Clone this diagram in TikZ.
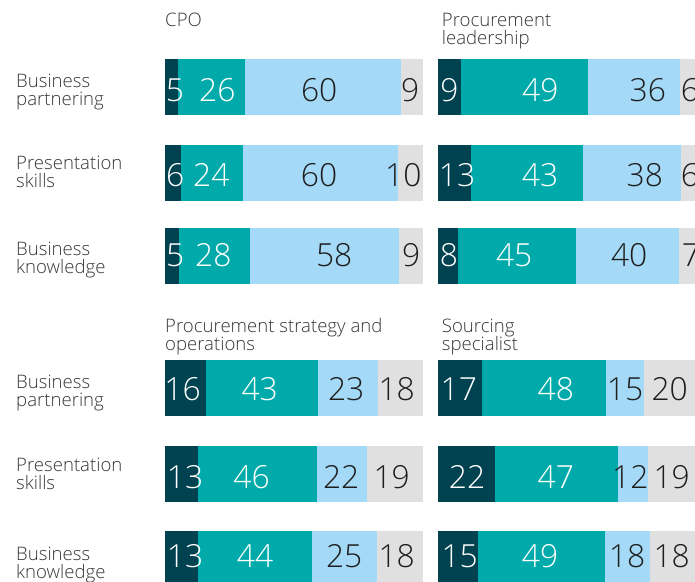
\documentclass[tikz,border=0pt]{standalone}
\usepackage{fontspec}
\IfFontExistsTF{Open Sans Light}{\setmainfont{Open Sans Light}}{\setmainfont{Open Sans}}
\definecolor{cdark}{RGB}{0,66,80}
\definecolor{cteal}{RGB}{0,170,170}
\definecolor{clight}{RGB}{164,218,247}
\definecolor{cgrey}{RGB}{224,224,224}
\definecolor{ctext}{RGB}{30,30,30}
\definecolor{clab}{RGB}{55,55,55}
\tikzset{
  numw/.style={inner sep=0pt, anchor=base, text=white, font=\fontsize{31.8}{32}\selectfont},
  numd/.style={inner sep=0pt, anchor=base, text=ctext, font=\fontsize{31.8}{32}\selectfont},
  num1/.style={numw}, num2/.style={numw}, num3/.style={numd}, num4/.style={numd},
  lab/.style={inner sep=0pt, anchor=base west, text=clab, font=\fontsize{18.6}{18}\selectfont},
}
\newcommand\stackbar[7]{%
  \fill[cdark] (#3,#1) rectangle (#4,#2);
  \fill[cteal] (#4,#1) rectangle (#5,#2);
  \fill[clight] (#5,#1) rectangle (#6,#2);
  \fill[cgrey] (#6,#1) rectangle (#7,#2);}
\newcommand\barnums[3]{%
  \foreach \xx/\nn [count=\ii] in {#3}{\node[num\ii] (#1-\ii) at (\xx,#2) {\nn};}}
\begin{document}
\begin{tikzpicture}[x=1pt,y=-1pt]
\useasboundingbox (0,0) rectangle (695,581);
\fill[white] (0,0) rectangle (695,581);
% titles
\node[lab] (tA) at (165,26.7) {CPO};
\node[lab] (tB1) at (441.7,26.7) {Procurement};
\node[lab] (tB2) at (441.7,44.5) {leadership};
\node[lab] (tC1) at (165,332.3) {Procurement strategy and};
\node[lab] (tC2) at (165,350) {operations};
\node[lab] (tD1) at (441.7,332.3) {Sourcing};
\node[lab] (tD2) at (441.7,350) {specialist};
% row labels
\node[lab] (l1a) at (16,87.3) {Business};
\node[lab] (l1b) at (16,105.2) {partnering};
\node[lab] (l2a) at (16,169.3) {Presentation};
\node[lab] (l2b) at (16,187.2) {skills};
\node[lab] (l3a) at (16,255) {Business};
\node[lab] (l3b) at (16,273) {knowledge};
\node[lab] (l4a) at (16,388.5) {Business};
\node[lab] (l4b) at (16,406.5) {partnering};
\node[lab] (l5a) at (16,471) {Presentation};
\node[lab] (l5b) at (16,489) {skills};
\node[lab] (l6a) at (16,560) {Business};
\node[lab] (l6b) at (16,578) {knowledge};
% chart A: CPO
\stackbar{59}{114.7}{165}{178}{245}{400.7}{423}
\barnums{a1}{101.7}{175/5, 217.3/26, 319.2/60, 410.3/9}
\stackbar{145}{200.7}{165}{181}{243}{398}{423}
\barnums{a2}{186.5}{175.3/6, 211.3/24, 319/60, 403.3/10}
\stackbar{228}{283.7}{165}{179}{250}{399}{423}
\barnums{a3}{266}{175.3/5, 213.3/28, 334.2/58, 411.3/9}
% chart B: Procurement leadership
\stackbar{59}{114.7}{438}{461}{588}{680.3}{700}
\barnums{b1}{101.7}{449.5/9, 540.3/49, 647.8/36, 690/6}
\stackbar{145}{200.7}{438}{471}{583}{680.7}{700}
\barnums{b2}{186.5}{457/13, 540/43, 644.8/38, 690/6}
\stackbar{228}{283.7}{438}{458}{576}{679}{700}
\barnums{b3}{266}{449/8, 514.2/45, 629.2/40, 691/7}
% chart C: Procurement strategy and operations
\stackbar{360}{415.7}{165}{206}{318}{378}{423}
\barnums{c1}{400}{182.5/16, 259.7/43, 346.2/23, 396.7/18}
\stackbar{446}{501.7}{165}{198}{316.7}{367}{423}
\barnums{c2}{488.3}{185/13, 251.5/46, 341.2/22, 391.7/19}
\stackbar{531}{590}{165}{198}{312}{377}{423}
\barnums{c3}{567.3}{185/13, 255/44, 344.2/25, 396.7/18}
% chart D: Sourcing specialist
\stackbar{360}{415.7}{438}{482}{605.7}{644}{700}
\barnums{d1}{400}{458.8/17, 555.8/48, 625/15, 669.7/20}
\stackbar{446}{501.7}{438}{495}{618}{648}{700}
\barnums{d2}{488.3}{467/22, 555.8/47, 630.3/12, 671.7/19}
\stackbar{531}{590}{438}{478}{605}{650}{700}
\barnums{d3}{567.3}{459.7/15, 540/49, 627/18, 671.7/18}
\end{tikzpicture}
\end{document}
